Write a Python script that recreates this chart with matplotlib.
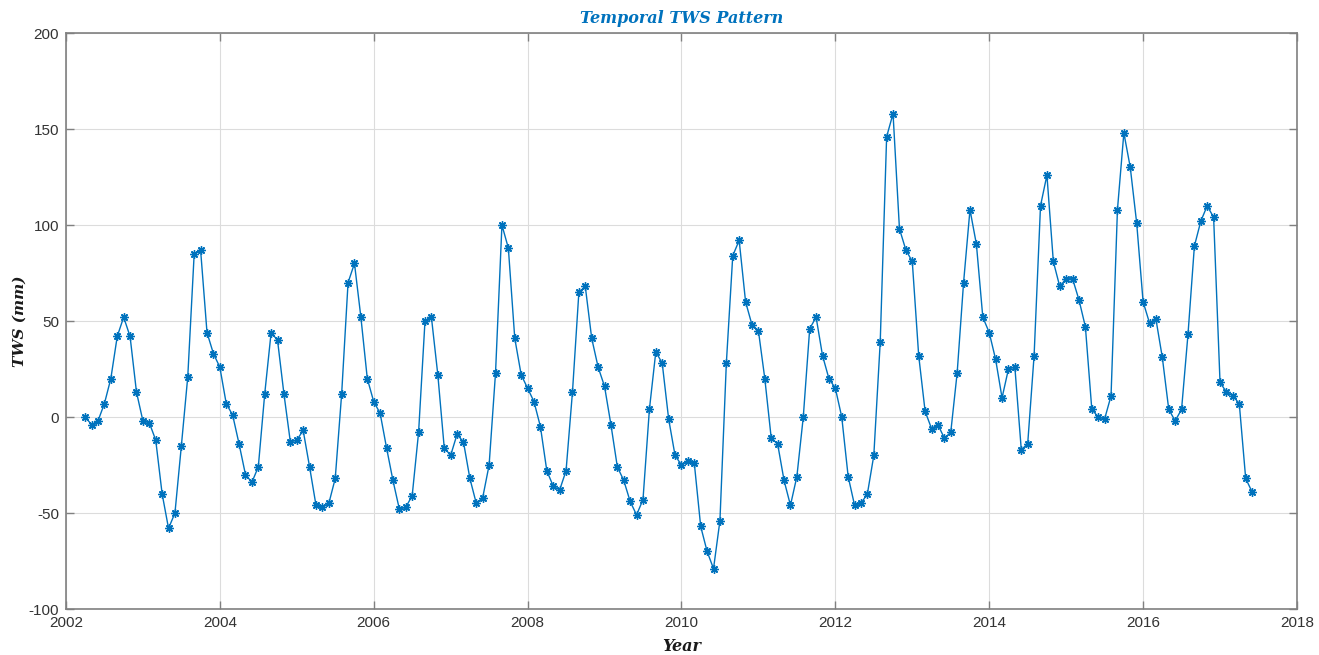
import numpy as np
import matplotlib
matplotlib.use("Agg")
import matplotlib.pyplot as plt

plt.rcParams["axes.unicode_minus"] = False

# Monthly TWS anomalies (mm), April 2002 onward
start_year = 2002
start_month = 4
tws = [
    0, -4, -2, 7, 20, 42, 52, 42, 13, -2, -3, -12,
    -40, -58, -50, -15, 21, 85, 87, 44, 33, 26, 7, 1,
    -14, -30, -34, -26, 12, 44, 40, 12, -13, -12, -7, -26,
    -46, -47, -45, -32, 12, 70, 80, 52, 20, 8, 2, -16,
    -33, -48, -47, -41, -8, 50, 52, 22, -16, -20, -9, -13,
    -32, -45, -42, -25, 23, 100, 88, 41, 22, 15, 8, -5,
    -28, -36, -38, -28, 13, 65, 68, 41, 26, 16, -4, -26,
    -33, -44, -51, -43, 4, 34, 28, -1, -20, -25, -23, -24,
    -57, -70, -79, -54, 28, 84, 92, 60, 48, 45, 20, -11,
    -14, -33, -46, -31, 0, 46, 52, 32, 20, 15, 0, -31,
    -46, -45, -40, -20, 39, 146, 158, 98, 87, 81, 32, 3,
    -6, -4, -11, -8, 23, 70, 108, 90, 52, 44, 30, 10,
    25, 26, -17, -14, 32, 110, 126, 81, 68, 72, 72, 61,
    47, 4, 0, -1, 11, 108, 148, 130, 101, 60, 49, 51,
    31, 4, -2, 4, 43, 89, 102, 110, 104, 18, 13, 11,
    7, -32, -39,
]
x_ticks = [2002, 2004, 2006, 2008, 2010, 2012, 2014, 2016, 2018]
y_ticks = [-100, -50, 0, 50, 100, 150, 200]

years = start_year + (start_month - 1 + np.arange(len(tws))) / 12.0

fig = plt.figure(figsize=(13.19, 6.55), dpi=100)
ax = fig.add_axes([0.050, 0.0702, 0.9333, 0.8794])

blue = "#0072BD"
ax.plot(years, tws, color=blue, lw=1.0, marker=(8, 2, 0), ms=6,
        mew=1.0, mec=blue, mfc=blue)

ax.set_xlim(2002, 2018)
ax.set_ylim(-100, 200)
ax.set_xticks(x_ticks)
ax.set_yticks(y_ticks)
ax.grid(True, color="#dcdcdc", lw=0.8)
ax.set_axisbelow(True)

for s in ax.spines.values():
    s.set_color("#808080")
    s.set_linewidth(1.2)
ax.tick_params(direction="in", length=6, width=1, color="#808080",
               top=True, right=True, labelsize=11, labelcolor="#333333")
ax.tick_params(axis="x", pad=5)
ax.tick_params(axis="y", pad=5)
for lab in ax.get_xticklabels() + ax.get_yticklabels():
    lab.set_family("Liberation Sans")

ax.set_title("Temporal TWS Pattern", color=blue, fontsize=11.5,
             fontweight="bold", fontstyle="italic", family="DejaVu Serif", pad=7)
ax.set_xlabel("Year", fontsize=11.5, fontweight="bold", fontstyle="italic",
              family="DejaVu Serif", color="#1a1a1a", labelpad=6)
ax.set_ylabel("TWS (mm)", fontsize=11, fontweight="bold", fontstyle="italic",
              family="DejaVu Serif", color="#1a1a1a", labelpad=4)
ax.yaxis.set_label_coords(-0.032, 0.5)

fig.savefig("out.png", dpi=100, facecolor="white")
